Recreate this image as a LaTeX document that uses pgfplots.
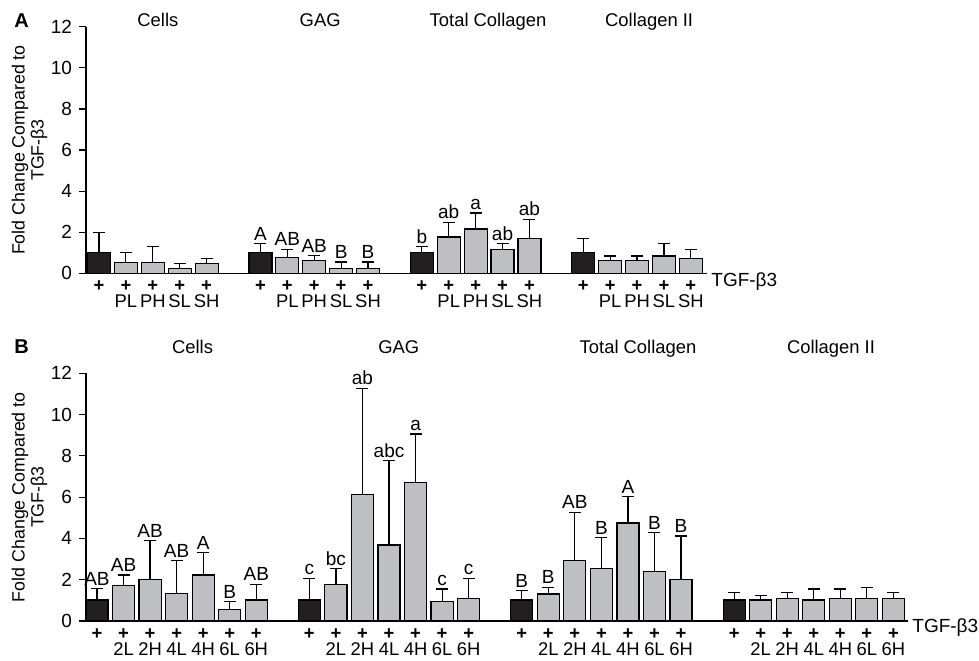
\documentclass[border=0pt]{standalone}
\usepackage{pgfplots}
\pgfplotsset{compat=1.18}
\usepackage{fontspec}
\setmainfont{Liberation Sans}
\definecolor{bargray}{RGB}{190,191,195}
\definecolor{barblack}{RGB}{35,31,32}
\pgfplotsset{
  panel/.style={
    scale only axis,
    axis x line=bottom, axis y line=left,
    axis line style={line width=0.65pt,-},
    ymin=0, ymax=12, ytick={0,2,...,12},
    tick align=outside, major tick length=3.5pt,
    ytick style={line width=0.6pt, black},
    xtick style={draw=none},
    yticklabel style={font=\fontsize{9.5}{11}\selectfont},
    /pgf/number format/assume math mode=true,
    clip=false,
    ylabel={Fold Change Compared to\\TGF-β3},
    ylabel style={align=center, font=\fontsize{8.9}{9.5}\selectfont, anchor=center},
  },
  errstyle/.style={
    error bars/y dir=plus, error bars/y explicit,
    error bars/error bar style={line width=0.6pt, black},
    error bars/error mark options={rotate=90, mark size=3pt, line width=0.6pt, black}},
  blackbar/.style={ybar, bar shift=0pt, fill=barblack, draw=black, line width=0.6pt, errstyle},
  graybar/.style={ybar, bar shift=0pt, fill=bargray, draw=black, line width=0.6pt, errstyle},
  letters/.style={only marks, mark=*, mark size=0pt, mark options={draw=none, fill=none},
    nodes near coords, point meta=explicit symbolic,
    nodes near coords style={anchor=south, font=\fontsize{9.5}{10}\selectfont, inner sep=1.5pt, text=black}},
}
\begin{document}
\begin{tikzpicture}
% Panel A
\begin{axis}[panel,
  at={(43pt,-136.65pt)}, anchor=south west,
  width=310.5pt, height=123.3pt,
  xmin=-0.483, xmax=22.6,
  bar width=0.855,
  ylabel style={at={(axis description cs:-0.091,0.5)}},
  xtick={0,1,2,3,4,6,7,8,9,10,12,13,14,15,16,18,19,20,21,22},
  xticklabels={\textbf{+},{\textbf{+}\\PL},{\textbf{+}\\PH},{\textbf{+}\\SL},{\textbf{+}\\SH},
               \textbf{+},{\textbf{+}\\PL},{\textbf{+}\\PH},{\textbf{+}\\SL},{\textbf{+}\\SH},
               \textbf{+},{\textbf{+}\\PL},{\textbf{+}\\PH},{\textbf{+}\\SL},{\textbf{+}\\SH},
               \textbf{+},{\textbf{+}\\PL},{\textbf{+}\\PH},{\textbf{+}\\SL},{\textbf{+}\\SH}},
  xticklabel style={align=center, font=\fontsize{9.2}{7.8}\selectfont, anchor=north, inner sep=0pt},
]
\addplot[blackbar] coordinates {(0,1.0)+-(0,1.0) (6,1.0)+-(0,0.44) (12,1.0)+-(0,0.30) (18,1.0)+-(0,0.69)};
\addplot[graybar] coordinates {
 (1,0.54)+-(0,0.46) (2,0.54)+-(0,0.76) (3,0.24)+-(0,0.23) (4,0.47)+-(0,0.24)
 (7,0.76)+-(0,0.41) (8,0.63)+-(0,0.23) (9,0.24)+-(0,0.31) (10,0.24)+-(0,0.31)
 (13,1.77)+-(0,0.71) (14,2.16)+-(0,0.77) (15,1.17)+-(0,0.27) (16,1.69)+-(0,0.94)
 (19,0.63)+-(0,0.21) (20,0.63)+-(0,0.21) (21,0.84)+-(0,0.60) (22,0.71)+-(0,0.46)};
\addplot[letters] coordinates {(6,1.44)[A] (7,1.17)[AB] (8,0.86)[AB] (9,0.55)[B] (10,0.55)[B]
 (12,1.30)[b] (13,2.48)[ab] (14,2.93)[a] (15,1.44)[ab] (16,2.63)[ab]};
\node[anchor=base, font=\fontsize{9.2}{10}\selectfont] at (axis cs:2.19,12) {Cells};
\node[anchor=base, font=\fontsize{9.2}{10}\selectfont] at (axis cs:8.22,12) {GAG};
\node[anchor=base, font=\fontsize{9.2}{10}\selectfont] at (axis cs:14.46,12) {Total Collagen};
\node[anchor=base, font=\fontsize{9.2}{10}\selectfont] at (axis cs:20.45,12) {Collagen II};
\node[anchor=west, font=\fontsize{9.5}{10}\selectfont, inner sep=0pt, xshift=2pt, yshift=-4.3pt] at (rel axis cs:1,0) {TGF-β3};
\end{axis}
% Panel B
\begin{axis}[panel,
  at={(43pt,-310.5pt)}, anchor=south west,
  width=411pt, height=123.85pt,
  xmin=-0.414, xmax=30.55,
  bar width=0.83,
  ylabel style={at={(axis description cs:-0.0687,0.5)}},
  xtick={0,1,2,3,4,5,6,8,9,10,11,12,13,14,16,17,18,19,20,21,22,24,25,26,27,28,29,30},
  xticklabels={\textbf{+},{\textbf{+}\\2L},{\textbf{+}\\2H},{\textbf{+}\\4L},{\textbf{+}\\4H},{\textbf{+}\\6L},{\textbf{+}\\6H},
               \textbf{+},{\textbf{+}\\2L},{\textbf{+}\\2H},{\textbf{+}\\4L},{\textbf{+}\\4H},{\textbf{+}\\6L},{\textbf{+}\\6H},
               \textbf{+},{\textbf{+}\\2L},{\textbf{+}\\2H},{\textbf{+}\\4L},{\textbf{+}\\4H},{\textbf{+}\\6L},{\textbf{+}\\6H},
               \textbf{+},{\textbf{+}\\2L},{\textbf{+}\\2H},{\textbf{+}\\4L},{\textbf{+}\\4H},{\textbf{+}\\6L},{\textbf{+}\\6H}},
  xticklabel style={align=center, font=\fontsize{9.2}{8}\selectfont, anchor=north, inner sep=0pt},
]
\addplot[blackbar] coordinates {(0,1.02)+-(0,0.55) (8,1.02)+-(0,1.05) (16,1.02)+-(0,0.45) (24,1.02)+-(0,0.37)};
\addplot[graybar] coordinates {
 (1,1.71)+-(0,0.52) (2,2.02)+-(0,1.87) (3,1.34)+-(0,1.58) (4,2.23)+-(0,1.08) (5,0.57)+-(0,0.37) (6,1.02)+-(0,0.76)
 (9,1.78)+-(0,0.76) (10,6.12)+-(0,5.16) (11,3.68)+-(0,4.09) (12,6.72)+-(0,2.34) (13,0.94)+-(0,0.61) (14,1.10)+-(0,0.97)
 (17,1.31)+-(0,0.32) (18,2.92)+-(0,2.35) (19,2.54)+-(0,1.51) (20,4.75)+-(0,1.28) (21,2.39)+-(0,1.89) (22,2.02)+-(0,2.10)
 (25,1.02)+-(0,0.21) (26,1.10)+-(0,0.29) (27,1.02)+-(0,0.53) (28,1.10)+-(0,0.45) (29,1.10)+-(0,0.52) (30,1.10)+-(0,0.29)};
\addplot[letters] coordinates {(0,1.57)[AB] (1,2.23)[AB] (2,3.89)[AB] (3,2.92)[AB] (4,3.31)[A] (5,0.94)[B] (6,1.78)[AB]
 (8,2.07)[c] (9,2.54)[bc] (10,11.28)[ab] (11,7.77)[abc] (12,9.06)[a] (13,1.55)[c] (14,2.07)[c]
 (16,1.47)[B] (17,1.63)[B] (18,5.27)[AB] (19,4.05)[B] (20,6.03)[A] (21,4.28)[B] (22,4.12)[B]};
\node[anchor=base, font=\fontsize{9.2}{10}\selectfont] at (axis cs:3.6,12.97) {Cells};
\node[anchor=base, font=\fontsize{9.2}{10}\selectfont] at (axis cs:11.37,12.97) {GAG};
\node[anchor=base, font=\fontsize{9.2}{10}\selectfont] at (axis cs:20.38,12.97) {Total Collagen};
\node[anchor=base, font=\fontsize{9.2}{10}\selectfont] at (axis cs:27.65,12.97) {Collagen II};
\node[anchor=west, font=\fontsize{9.5}{10}\selectfont, inner sep=0pt, xshift=2pt, yshift=-3.4pt] at (rel axis cs:1,0) {TGF-β3};
\end{axis}
\node[anchor=north west, inner sep=0pt, font=\bfseries\fontsize{10}{12}\selectfont] at (7pt,-6.5pt) {A};
\node[anchor=north west, inner sep=0pt, font=\bfseries\fontsize{10}{12}\selectfont] at (7pt,-169.5pt) {B};
\pgfresetboundingbox
\useasboundingbox (0,0) rectangle (489.5pt,-330pt);
\end{tikzpicture}
\end{document}
